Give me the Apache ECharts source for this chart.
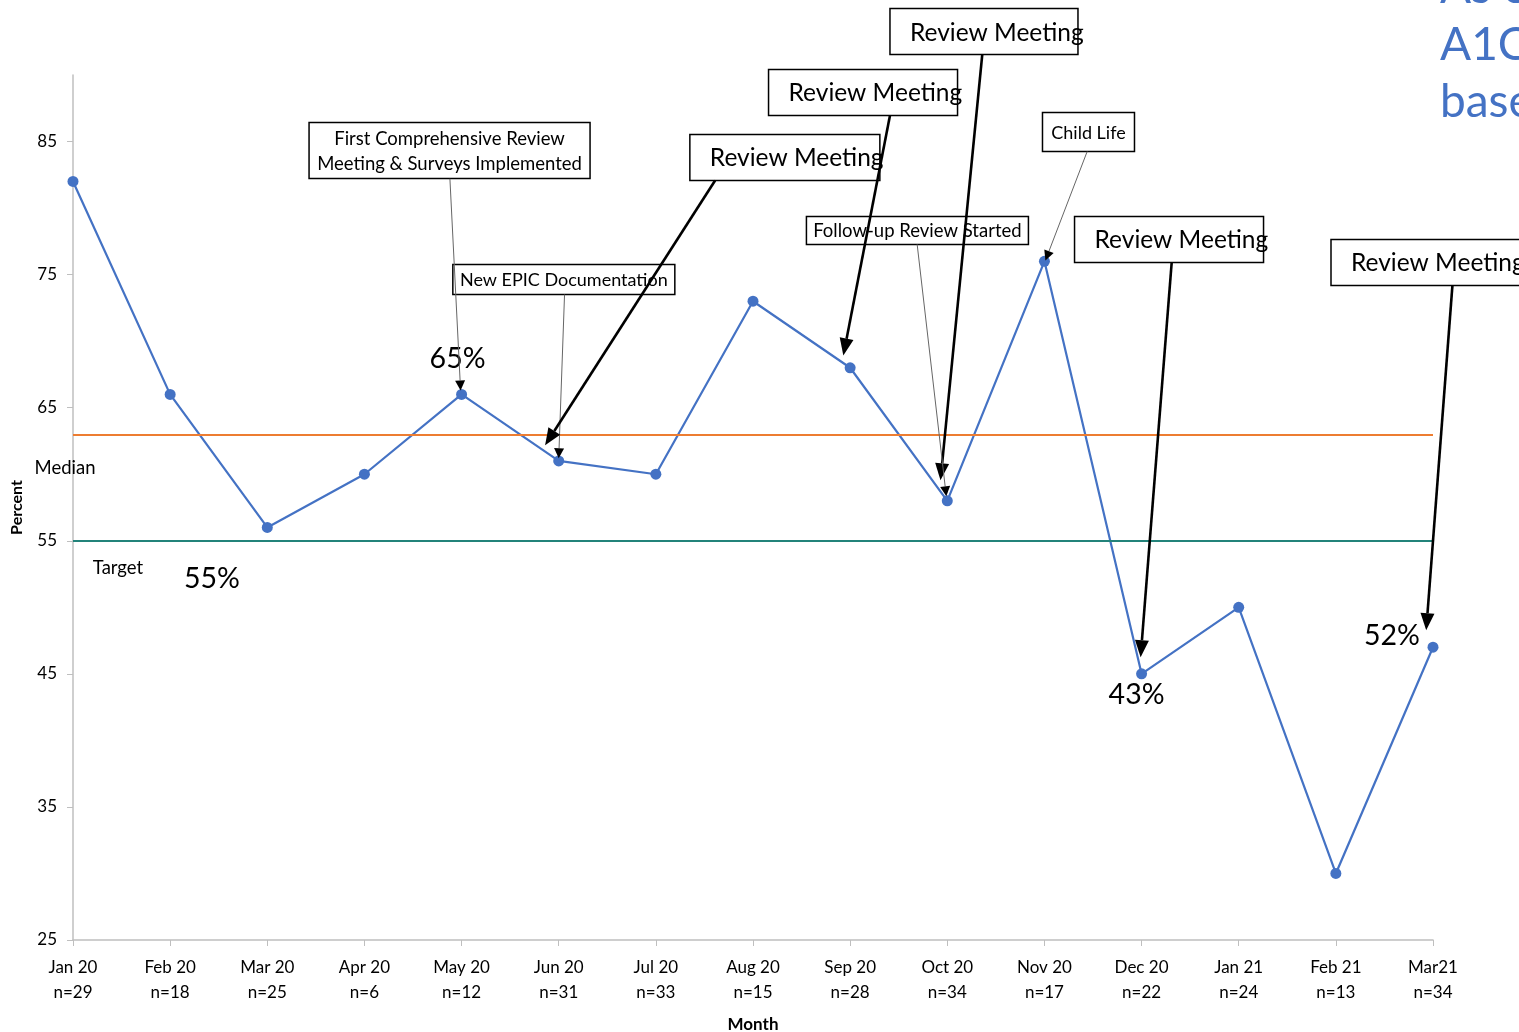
<!DOCTYPE html>
<html>
<head>
<meta charset="utf-8">
<script src="https://cdn.jsdelivr.net/npm/echarts@6/dist/echarts.min.js"></script>
<style>
  html, body { margin: 0; padding: 0; background: #fff; }
  #chart { width: 1519px; height: 1032px; }
</style>
</head>
<body>
<div id="chart"></div>
<script>
const months = ['Jan 20', 'Feb 20', 'Mar 20', 'Apr 20', 'May 20', 'Jun 20', 'Jul 20', 'Aug 20',
  'Sep 20', 'Oct 20', 'Nov 20', 'Dec 20', 'Jan 21', 'Feb 21', 'Mar21']
const counts = [29, 18, 25, 6, 12, 31, 33, 15, 28, 34, 17, 22, 24, 13, 34]
const percents = [82, 66, 56, 60, 66, 61, 60, 73, 68, 58, 76, 45, 50, 30, 47]
const medianValue = 63
const targetValue = 55
const yTicks = [25, 35, 45, 55, 65, 75, 85]

const FONT = 'Lato'
const BLUE = '#4472C4'

// annotation boxes and arrows, placed in data space (category index, percent)
const notes = [
  { text: 'First Comprehensive Review\nMeeting & Surveys Implemented', box: [2.43, 86.43], size: [281, 56], font: 18.5, center: true, from: [3.88, 82.2], to: [3.99, 66.3], heavy: false },
  { text: 'New EPIC Documentation', box: [3.91, 75.76], size: [222, 30], font: 18, center: true, from: [5.06, 73.5], to: [5.0, 61.2], heavy: false },
  { text: 'Review Meeting', box: [6.35, 85.53], size: [190, 46], font: 24.5, from: [6.61, 82.07], to: [4.86, 62.17], heavy: true },
  { text: 'Review Meeting', box: [7.16, 90.41], size: [189, 46], font: 24.5, from: [8.41, 86.95], to: [7.93, 68.93], heavy: true },
  { text: 'Review Meeting', box: [8.41, 94.99], size: [188, 46], font: 24.5, from: [9.36, 91.53], to: [8.93, 59.54], heavy: true },
  { text: 'Follow-up Review Started', box: [7.55, 79.37], size: [222, 28], font: 18.5, center: true, from: [8.69, 77.27], to: [8.99, 58.34], heavy: false },
  { text: 'Child Life', box: [9.98, 87.18], size: [92, 39], font: 18, center: true, from: [10.44, 84.25], to: [10.01, 76.06], heavy: false },
  { text: 'Review Meeting', box: [10.31, 79.37], size: [189, 46], font: 24.5, from: [11.31, 75.91], to: [10.99, 46.25], heavy: true },
  { text: 'Review Meeting', box: [12.95, 77.64], size: [200, 46], font: 24.5, from: [14.2, 74.19], to: [13.93, 48.28], heavy: true },
]

const callouts = [
  { text: '65%', at: [4, 66], dx: -4, dy: -36, font: 28.5 },
  { text: '55%', at: [1.43, targetValue], dx: 0, dy: 38, font: 28.5 },
  { text: '43%', at: [11, 45], dx: -5, dy: 21, font: 28.5 },
  { text: '52%', at: [14, 47], dx: -41, dy: -11, font: 28.5 },
  { text: 'Median', at: [0, medianValue], dx: -8, dy: 34, font: 18.5 },
  { text: 'Target', at: [0, targetValue], dx: 45, dy: 27, font: 18.5 },
]

const chart = echarts.init(document.getElementById('chart'))

chart.setOption({
  animation: false,
  backgroundColor: '#fff',
  textStyle: { fontFamily: FONT, color: '#000' },
  grid: { left: 73, right: 86, top: 75, bottom: 92, outerBoundsMode: 'none', containLabel: false },
  xAxis: {
    type: 'category',
    data: months,
    boundaryGap: false,
    name: 'Month',
    nameLocation: 'middle',
    nameGap: 76,
    nameTextStyle: { fontFamily: FONT, fontWeight: 'bold', fontSize: 17, color: '#000' },
    axisLine: { lineStyle: { color: '#BFBFBF', width: 1.5 } },
    axisTick: { show: true, alignWithLabel: true, length: 6, lineStyle: { color: '#BFBFBF' } },
    axisLabel: {
      interval: 0,
      margin: 15,
      fontSize: 17,
      lineHeight: 25,
      color: '#000',
      formatter: (v, i) => v + '\nn=' + counts[i],
    },
    splitLine: { show: false },
  },
  yAxis: {
    type: 'value',
    min: 25,
    max: 90,
    name: 'Percent',
    nameLocation: 'middle',
    nameGap: 48,
    nameRotate: 90,
    nameTextStyle: { fontFamily: FONT, fontWeight: 'bold', fontSize: 16, color: '#000' },
    axisLine: { show: true, lineStyle: { color: '#BFBFBF', width: 1.5 } },
    axisTick: { show: true, length: 6, customValues: yTicks, lineStyle: { color: '#BFBFBF' } },
    axisLabel: { fontSize: 17, color: '#000', margin: 16, customValues: yTicks },
    splitLine: { show: false },
  },
  series: [
    {
      type: 'line',
      data: percents,
      symbol: 'circle',
      symbolSize: 11,
      lineStyle: { color: BLUE, width: 2.2 },
      itemStyle: { color: BLUE },
      z: 3,
      markLine: {
        silent: true,
        symbol: ['none', 'none'],
        label: { show: false },
        data: [
          { yAxis: medianValue, lineStyle: { color: '#ED7D31', width: 2.2, type: 'solid' } },
          { yAxis: targetValue, lineStyle: { color: '#23837A', width: 2.2, type: 'solid' } },
        ],
      },
    },
  ],
})

// category axis rounds fractional indexes, so interpolate between neighbours
function px(pt) {
  const i0 = Math.floor(pt[0])
  const t = pt[0] - i0
  const a = chart.convertToPixel({ gridIndex: 0 }, [i0, pt[1]])
  const b = chart.convertToPixel({ gridIndex: 0 }, [i0 + 1, pt[1]])
  const step = b[0] - a[0] || (chart.convertToPixel({ gridIndex: 0 }, [i0, pt[1]])[0] - chart.convertToPixel({ gridIndex: 0 }, [i0 - 1, pt[1]])[0])
  return [a[0] + step * t, a[1]]
}

function arrow(p0, p1, heavy) {
  const lw = heavy ? 2.6 : 1
  const hl = heavy ? 17 : 10
  const hw = heavy ? 7 : 5
  const dx = p1[0] - p0[0], dy = p1[1] - p0[1]
  const len = Math.hypot(dx, dy)
  const ux = dx / len, uy = dy / len
  const bx = p1[0] - ux * hl, by = p1[1] - uy * hl
  return [
    {
      type: 'line', z: 20,
      shape: { x1: p0[0], y1: p0[1], x2: bx, y2: by },
      style: { stroke: heavy ? '#000' : '#666', lineWidth: lw },
    },
    {
      type: 'polygon', z: 20,
      shape: { points: [[p1[0], p1[1]], [bx - uy * hw, by + ux * hw], [bx + uy * hw, by - ux * hw]] },
      style: { fill: '#000' },
    },
  ]
}

const graphics = []

notes.forEach((n) => {
  const tl = px(n.box)
  const [w, h] = n.size
  graphics.push({
    type: 'rect', z: 10,
    shape: { x: tl[0], y: tl[1], width: w, height: h },
    style: { fill: 'rgba(255,255,255,0)', stroke: '#000', lineWidth: 1.5 },
  })
  graphics.push({
    type: 'text', z: 11,
    x: n.center ? tl[0] + w / 2 : tl[0] + 20,
    y: tl[1] + h / 2 + 1,
    style: {
      text: n.text,
      fontFamily: FONT,
      fontSize: n.font,
      lineHeight: n.font * 1.35,
      fill: '#000',
      align: n.center ? 'center' : 'left',
      verticalAlign: 'middle',
    },
  })
  graphics.push(...arrow(px(n.from), px(n.to), n.heavy))
})

callouts.forEach((c) => {
  const p = px(c.at)
  graphics.push({
    type: 'text', z: 12,
    x: p[0] + c.dx, y: p[1] + c.dy,
    style: { text: c.text, fontFamily: FONT, fontSize: c.font, fill: '#000', align: 'center', verticalAlign: 'middle' },
  })
})

// slide title text cut off at the right edge
const sideLines = ['As of', 'A1C', 'baseline']
sideLines.forEach((t, i) => {
  graphics.push({
    type: 'text', z: 12,
    x: 1440, y: -12 + i * 57,
    style: { text: t, fontFamily: FONT, fontSize: 46, fill: BLUE, align: 'left', verticalAlign: 'middle' },
  })
})

chart.setOption({ graphic: graphics })
</script>
</body>
</html>
